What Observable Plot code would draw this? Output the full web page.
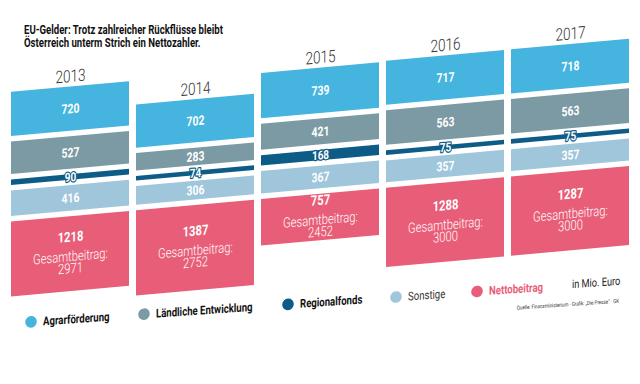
<!DOCTYPE html>
<html>
<head>
<meta charset="utf-8">
<script src="https://cdn.jsdelivr.net/npm/d3@7"></script>
<script src="https://cdn.jsdelivr.net/npm/@observablehq/plot@0.6"></script>
<style>
  html, body { margin: 0; padding: 0; background: #fff; }
  #wrap { position: relative; width: 640px; height: 384px; overflow: hidden; }
  #title { position: absolute; left: 24px; top: 24px; font-family: Roboto, sans-serif; font-weight: bold; font-size: 12px; line-height: 12.8px; color: #111; z-index: 2; white-space: nowrap; transform: scaleX(0.8); transform-origin: 0 0; }
  svg { font-family: Roboto, sans-serif; }
</style>
</head>
<body>
<div id="wrap">
  <div id="title">EU-Gelder: Trotz zahlreicher Rückflüsse bleibt<br>Österreich unterm Strich ein Nettozahler.</div>
</div>
<script>
// ---- data ----
const years = ["2013", "2014", "2015", "2016", "2017"];
const agrar = [720, 702, 739, 717, 718];
const laendlich = [527, 283, 421, 563, 563];
const regional = [90, 74, 168, 75, 75];
const sonstige = [416, 306, 367, 357, 357];
const netto = [1218, 1387, 757, 1288, 1287];
const gesamt = [2971, 2752, 2452, 3000, 3000];
const categories = ["Agrarförderung", "Ländliche Entwicklung", "Regionalfonds", "Sonstige", "Nettobeitrag"];
const colors = ["#45b4de", "#7b9aa3", "#0d5c87", "#9fc6da", "#e85d77"];
const unitLabel = "in Mio. Euro";
const source = "Quelle: Finanzministerium · Grafik: „Die Presse“ · GK";

// ---- build stacked table (gap between segments in data units) ----
const GAP = 89;
const segs = [];
years.forEach((yr, i) => {
  let start = GAP / 2;
  [["Sonstige", sonstige], ["Regionalfonds", regional], ["Ländliche Entwicklung", laendlich], ["Agrarförderung", agrar]]
    .forEach(([cat, arr]) => {
      const v = arr[i];
      segs.push({year: yr, cat, value: v, y1: start, y2: start + v, mid: start + v / 2});
      start = start + v + GAP;
    });
  const n = netto[i];
  segs.push({year: yr, cat: "Nettobeitrag", value: n, y1: -GAP / 2, y2: -GAP / 2 - n, mid: -GAP / 2 - n / 2, gesamt: gesamt[i]});
});
const tops = segs.filter(d => d.cat === "Agrarförderung");
const nets = segs.filter(d => d.cat === "Nettobeitrag");
const plain = segs.filter(d => d.cat !== "Nettobeitrag" && d.cat !== "Regionalfonds");
const regs = segs.filter(d => d.cat === "Regionalfonds");

const svg = Plot.plot({
  width: 640, height: 384,
  marginTop: 0, marginBottom: 0, marginLeft: 10, marginRight: 10,
  style: {fontFamily: "Roboto, sans-serif"},
  x: {domain: years, paddingInner: 0.06, paddingOuter: 0, axis: null},
  y: {domain: [-2670, 3574], axis: null},
  color: {domain: categories, range: colors},
  marks: [
    Plot.barY(segs, {x: "year", y1: "y1", y2: "y2", fill: "cat"}),
    Plot.text(plain, {x: "year", y: "mid", text: d => String(d.value), fill: "white", fontWeight: "bold", fontSize: 13}),
    Plot.text(regs, {x: "year", y: "mid", text: d => String(d.value), fill: "white", stroke: "#0d5c87", strokeWidth: 2.5, paintOrder: "stroke", fontWeight: "bold", fontSize: 12.5}),
    Plot.text(nets, {x: "year", y: "mid", text: d => String(d.value), fill: "white", fontWeight: "bold", fontSize: 14, dy: -17}),
    Plot.text(nets, {x: "year", y: "mid", text: d => "Gesamtbeitrag:", fill: "white", fontWeight: 300, fontSize: 14, dy: 2.5}),
    Plot.text(nets, {x: "year", y: "mid", text: d => String(d.gesamt), fill: "white", fontWeight: 300, fontSize: 14, dy: 14.5}),
    Plot.text(tops, {x: "year", y: "y2", text: "year", fill: "#333", fontSize: 17, fontWeight: 300, lineAnchor: "bottom", dy: -5})
  ]
});

// skew everything drawn by Plot
const ns = "http://www.w3.org/2000/svg";
const g = document.createElementNS(ns, "g");
g.setAttribute("transform", "skewY(-5.14)");
Array.from(svg.childNodes).forEach(c => { if (c.nodeName.toLowerCase() !== "style") g.appendChild(c); });
svg.appendChild(g);

// legend (own slight skew)
const lg = d3.select(svg).append("g").attr("transform", "skewY(-3.9)");
const legendX = [31, 144, 288, 396, 477];
const legendY = 324;
categories.forEach((c, i) => {
  lg.append("circle").attr("cx", legendX[i]).attr("cy", legendY).attr("r", 5.8).attr("fill", colors[i]);
  lg.append("text").attr("x", legendX[i] + 12).attr("y", legendY).attr("dy", "0.35em")
    .attr("text-anchor", "start")
    .attr("font-size", 12)
    .attr("font-weight", c === "Sonstige" ? "normal" : "bold")
    .attr("fill", c === "Nettobeitrag" ? colors[4] : (c === "Sonstige" ? "#333" : "#111"))
    .text(c);
});
lg.append("text").attr("x", 572).attr("y", legendY - 1).attr("dy", "0.35em").attr("text-anchor", "start").attr("font-size", 11.5).attr("fill", "#222").text(unitLabel);
lg.append("text").attr("x", 619).attr("y", 343).attr("dy", "0.35em").attr("text-anchor", "end").attr("font-size", 5.6).attr("fill", "#333").text(source);

// condensed look: narrow every text horizontally around its anchor
const SX = 0.8;
const num = /^-?\d+(\.\d+)?$/;
svg.querySelectorAll("text").forEach(t => {
  let tx = 0, ty = 0;
  const xa = t.getAttribute("x"), ya = t.getAttribute("y");
  if (xa != null && num.test(xa)) { tx = +xa; t.removeAttribute("x"); }
  if (ya != null && num.test(ya)) { ty = +ya; t.removeAttribute("y"); }
  const tr = t.getAttribute("transform") || "";
  t.setAttribute("transform", `${tr} translate(${tx},${ty}) scale(${SX},1)`);
});

document.getElementById("wrap").appendChild(svg);
svg.style.position = "absolute";
svg.style.left = "0";
svg.style.top = "0";
</script>
</body>
</html>
